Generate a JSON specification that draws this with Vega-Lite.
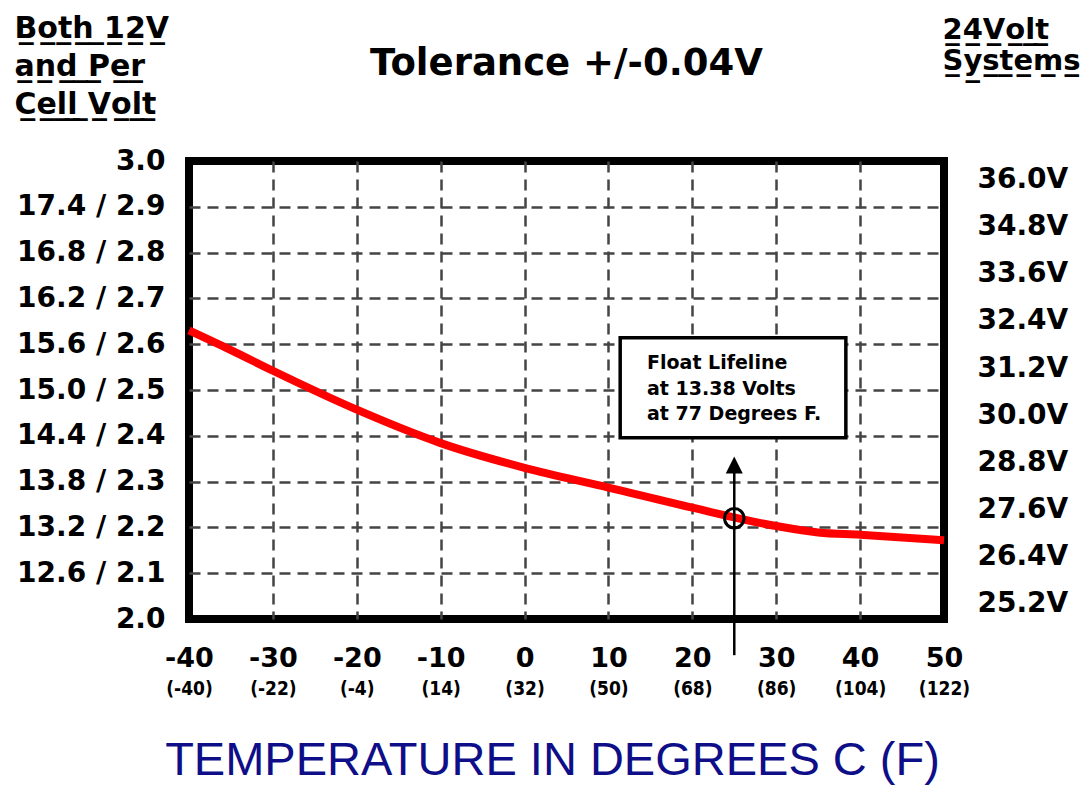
{
  "$schema": "https://vega.github.io/schema/vega-lite/v6.json",
  "width": 755,
  "height": 458,
  "autosize": {"type": "none"},
  "padding": {"left": 189, "top": 161, "right": 148, "bottom": 167},
  "background": "white",
  "title": {"text": "Tolerance +/-0.04V", "font": "DejaVu Sans", "fontSize": 37, "fontWeight": "bold", "color": "black", "anchor": "middle", "frame": "group", "baseline": "alphabetic", "offset": 0, "dy": 99},
  "config": {"view": {"stroke": "black", "strokeWidth": 8}},
  "layer": [
    {
      "layer": [
        {
          "data": {"values": [
            {"temp_c": -40, "volts_per_cell": 2.630},
            {"temp_c": -35, "volts_per_cell": 2.587},
            {"temp_c": -30, "volts_per_cell": 2.542},
            {"temp_c": -20, "volts_per_cell": 2.457},
            {"temp_c": -10, "volts_per_cell": 2.384},
            {"temp_c": 0, "volts_per_cell": 2.330},
            {"temp_c": 10, "volts_per_cell": 2.287},
            {"temp_c": 20, "volts_per_cell": 2.243},
            {"temp_c": 30, "volts_per_cell": 2.203},
            {"temp_c": 35, "volts_per_cell": 2.189},
            {"temp_c": 40, "volts_per_cell": 2.184},
            {"temp_c": 50, "volts_per_cell": 2.172}
          ]},
          "mark": {"type": "line", "color": "#ff0000", "strokeWidth": 8, "interpolate": "monotone"},
          "encoding": {
            "x": {"field": "temp_c", "type": "quantitative", "scale": {"domain": [-40, 50], "nice": false, "zero": false},
              "axis": {
                "orient": "bottom",
                "values": [-40, -30, -20, -10, 0, 10, 20, 30, 40, 50],
                "labelExpr": "'' + datum.value",
                "labelFont": "DejaVu Sans", "labelFontWeight": "bold", "labelFontSize": 27, "labelColor": "black",
                "labelBaseline": "middle", "labelPadding": 39,
                "ticks": false, "tickSize": 0, "domain": false,
                "grid": true, "gridDash": [11, 7], "gridColor": "#444444", "gridWidth": 2.5,
                "gridOpacity": {"condition": {"test": "datum.value <= -40 || datum.value >= 50", "value": 0}, "value": 1},
                "labelFlush": false, "labelOverlap": false, "labelBound": false,
                "title": "TEMPERATURE IN DEGREES C (F)",
                "titleX": 363, "titleY": 155, "titleAlign": "center", "titleAngle": 0, "titleBaseline": "alphabetic",
                "titleFont": "Liberation Sans", "titleFontSize": 47, "titleFontWeight": "normal", "titleColor": "#0e0e88"
              }
            },
            "y": {"field": "volts_per_cell", "type": "quantitative", "scale": {"domain": [2, 3], "nice": false, "zero": false},
              "axis": {
                "orient": "left",
                "values": [2.0, 2.1, 2.2, 2.3, 2.4, 2.5, 2.6, 2.7, 2.8, 2.9, 3.0],
                "labelExpr": "(datum.value > 2.95 || datum.value < 2.05) ? format(datum.value, '.1f') : format(datum.value * 6, '.1f') + ' / ' + format(datum.value, '.1f')",
                "labelFont": "DejaVu Sans", "labelFontWeight": "bold", "labelFontSize": 28, "labelColor": "black",
                "labelPadding": 24,
                "ticks": false, "tickSize": 0, "domain": false,
                "grid": true, "gridDash": [11, 7], "gridColor": "#444444", "gridWidth": 2.5,
                "gridOpacity": {"condition": {"test": "datum.value < 2.05 || datum.value > 2.95", "value": 0}, "value": 1},
                "labelFlush": false, "labelOverlap": false, "labelBound": false,
                "title": ["B\u0332o\u0332t\u0332h\u0332 \u03321\u03322\u0332V\u0332", "a\u0332n\u0332d\u0332 \u0332P\u0332e\u0332r\u0332", "C\u0332e\u0332l\u0332l\u0332 \u0332V\u0332o\u0332l\u0332t\u0332"],
                "titleAngle": 0, "titleAlign": "left", "titleBaseline": "alphabetic", "titleX": -175, "titleY": -124,
                "titleFont": "DejaVu Sans", "titleFontSize": 30, "titleFontWeight": "bold", "titleColor": "black", "titleLineHeight": 38
              }
            }
          }
        },
        {
          "data": {"values": [{"temp_c": 11.4, "temp_c_end": 38.3, "volts_per_cell": 2.614, "volts_per_cell_end": 2.396}]},
          "mark": {"type": "rect", "fill": "white", "stroke": "black", "strokeWidth": 3.5},
          "encoding": {
            "x": {"field": "temp_c", "type": "quantitative"},
            "x2": {"field": "temp_c_end"},
            "y": {"field": "volts_per_cell", "type": "quantitative"},
            "y2": {"field": "volts_per_cell_end"}
          }
        },
        {
          "data": {"values": [
            {"temp_c": 14.6, "volts_per_cell": 2.559, "note": "Float Lifeline"},
            {"temp_c": 14.6, "volts_per_cell": 2.502, "note": "at 13.38 Volts"},
            {"temp_c": 14.6, "volts_per_cell": 2.447, "note": "at 77 Degrees F."}
          ]},
          "mark": {"type": "text", "align": "left", "baseline": "middle", "font": "DejaVu Sans", "fontSize": 19, "fontWeight": "bold", "color": "black"},
          "encoding": {
            "x": {"field": "temp_c", "type": "quantitative"},
            "y": {"field": "volts_per_cell", "type": "quantitative"},
            "text": {"field": "note", "type": "nominal"}
          }
        },
        {
          "data": {"values": [{"temp_c": 25, "volts_per_cell": 1.921, "volts_per_cell_end": 2.336}]},
          "mark": {"type": "rule", "color": "black", "strokeWidth": 2.5},
          "encoding": {
            "x": {"field": "temp_c", "type": "quantitative"},
            "y": {"field": "volts_per_cell", "type": "quantitative"},
            "y2": {"field": "volts_per_cell_end"}
          }
        },
        {
          "data": {"values": [{"temp_c": 25, "volts_per_cell": 2.336}]},
          "mark": {"type": "point", "shape": "M0,-1L1,1L-1,1Z", "size": 289, "filled": true, "color": "black", "opacity": 1},
          "encoding": {
            "x": {"field": "temp_c", "type": "quantitative"},
            "y": {"field": "volts_per_cell", "type": "quantitative"}
          }
        },
        {
          "data": {"values": [{"temp_c": 25, "volts_per_cell": 2.22}]},
          "mark": {"type": "point", "shape": "circle", "size": 380, "filled": false, "stroke": "black", "strokeWidth": 3, "opacity": 1},
          "encoding": {
            "x": {"field": "temp_c", "type": "quantitative"},
            "y": {"field": "volts_per_cell", "type": "quantitative"}
          }
        }
      ]
    },
    {
      "data": {"values": [
        {"temp_c": -40, "volts_24": 25.2},
        {"temp_c": -40, "volts_24": 26.4},
        {"temp_c": -40, "volts_24": 27.6},
        {"temp_c": -40, "volts_24": 28.8},
        {"temp_c": -40, "volts_24": 30.0},
        {"temp_c": -40, "volts_24": 31.2},
        {"temp_c": -40, "volts_24": 32.4},
        {"temp_c": -40, "volts_24": 33.6},
        {"temp_c": -40, "volts_24": 34.8},
        {"temp_c": -40, "volts_24": 36.0}
      ]},
      "mark": {"type": "point", "opacity": 0},
      "encoding": {
        "x": {"field": "temp_c", "type": "quantitative", "scale": {"domain": [-40, 50], "nice": false, "zero": false},
          "axis": {
            "orient": "bottom",
            "values": [-40, -30, -20, -10, 0, 10, 20, 30, 40, 50],
            "labelExpr": "'(' + (datum.value * 9 / 5 + 32) + ')'",
            "labelFont": "DejaVu Sans Condensed, Liberation Sans Narrow, DejaVu Sans", "labelFontWeight": "bold", "labelFontSize": 19, "labelColor": "black",
            "labelBaseline": "middle", "labelPadding": 69,
            "ticks": false, "tickSize": 0, "domain": false, "grid": false,
            "labelFlush": false, "labelOverlap": false, "labelBound": false,
            "title": null
          }
        },
        "y": {"field": "volts_24", "type": "quantitative", "scale": {"domain": [24.8, 36.48], "nice": false, "zero": false},
          "axis": {
            "orient": "right",
            "values": [25.2, 26.4, 27.6, 28.8, 30.0, 31.2, 32.4, 33.6, 34.8, 36.0],
            "labelExpr": "format(datum.value, '.1f') + 'V'",
            "labelFont": "DejaVu Sans", "labelFontWeight": "bold", "labelFontSize": 28, "labelColor": "black",
            "labelPadding": 33,
            "ticks": false, "tickSize": 0, "domain": false, "grid": false,
            "labelFlush": false, "labelOverlap": false, "labelBound": false,
            "title": ["2\u03324\u0332V\u0332o\u0332l\u0332t\u0332", "S\u0332y\u0332s\u0332t\u0332e\u0332m\u0332s\u0332"],
            "titleAngle": 0, "titleAlign": "left", "titleBaseline": "alphabetic", "titleX": -2, "titleY": -123,
            "titleFont": "DejaVu Sans", "titleFontSize": 29, "titleFontWeight": "bold", "titleColor": "black", "titleLineHeight": 31
          }
        }
      }
    }
  ],
  "resolve": {"scale": {"y": "independent"}, "axis": {"x": "independent", "y": "independent"}}
}
